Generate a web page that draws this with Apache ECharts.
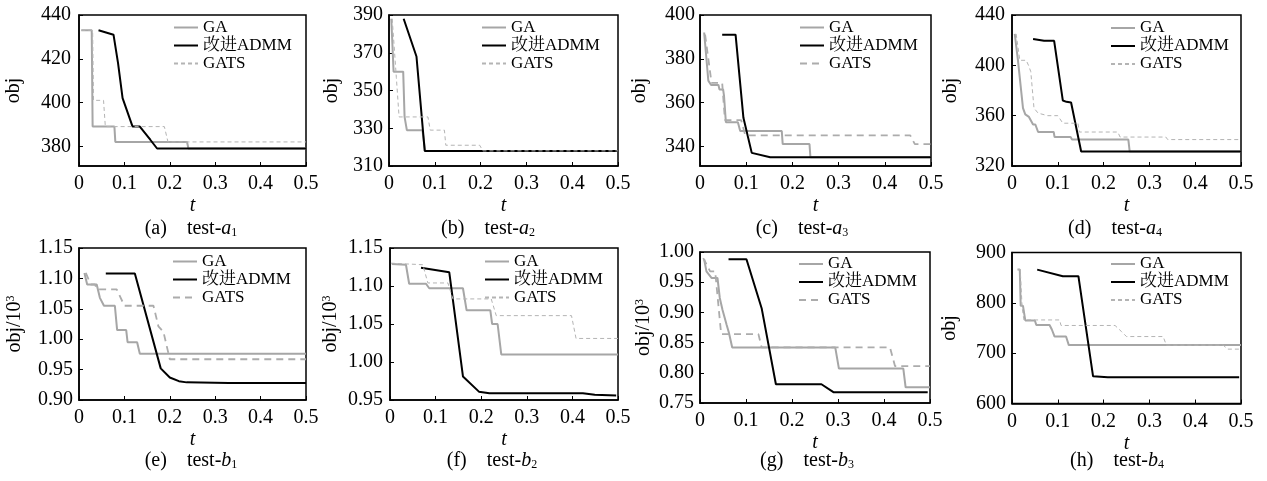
<!DOCTYPE html>
<html><head><meta charset="utf-8">
<script src="https://cdn.jsdelivr.net/npm/echarts@6/dist/echarts.min.js"></script>
<style>html,body{margin:0;padding:0;background:#fff}#c{width:1267px;height:481px}</style>
</head><body><div id="c"></div>
<script>
// ---------- data ----------
const xTicks = [0, 0.1, 0.2, 0.3, 0.4, 0.5];
const seriesNames = ['GA', '改进ADMM', 'GATS'];
const panelLetters = ['a', 'b', 'c', 'd', 'e', 'f', 'g', 'h'];
const caseLetters = ['a', 'a', 'a', 'a', 'b', 'b', 'b', 'b'];
const caseIndex = ['1', '2', '3', '4', '1', '2', '3', '4'];
const yNames = ['obj', 'obj', 'obj', 'obj', 'obj/10{sup|3}', 'obj/10{sup|3}', 'obj/10{sup|3}', 'obj'];
const yMin = [371, 310, 331, 320, 0.90, 0.95, 0.75, 600];
const yMax = [440, 390, 400, 440, 1.15, 1.15, 1.00, 900];
const yTicks_a = [380, 400, 420, 440];
const yTicks_b = [310, 330, 350, 370, 390];
const yTicks_c = [340, 360, 380, 400];
const yTicks_d = [320, 360, 400, 440];
const yTicks_e = [0.90, 0.95, 1.00, 1.05, 1.10, 1.15];
const yTicks_f = [0.95, 1.00, 1.05, 1.10, 1.15];
const yTicks_g = [0.75, 0.80, 0.85, 0.90, 0.95, 1.00];
const yTicks_h = [600, 700, 800, 900];

const GA_a = [[0.005,433],[0.028,433],[0.03,389],[0.078,389],[0.08,382],[0.238,382],[0.241,379],[0.5,379]];
const ADMM_a = [[0.043,433],[0.076,431],[0.086,418],[0.096,402],[0.118,389],[0.134,389],[0.157,383],[0.172,379],[0.5,379]];
const GATS_a = [[0.005,433],[0.03,433],[0.032,401],[0.054,401],[0.058,389],[0.188,389],[0.196,382],[0.5,382]];

const GA_b = [[0.005,388],[0.01,360],[0.031,360],[0.034,336],[0.037,336],[0.039,329],[0.073,329],[0.079,318],[0.5,318]];
const ADMM_b = [[0.032,388],[0.06,368],[0.078,318],[0.5,318]];
const GATS_b = [[0.007,388],[0.016,357],[0.022,336],[0.085,336],[0.09,329],[0.121,329],[0.124,321],[0.198,321],[0.205,318],[0.5,318]];

const GA_c = [[0.009,392],[0.018,370],[0.024,368],[0.04,368],[0.042,366],[0.05,366],[0.052,363],[0.056,351],[0.082,351],[0.087,347],[0.177,347],[0.179,341],[0.237,341],[0.239,335],[0.5,335]];
const ADMM_c = [[0.048,391],[0.077,391],[0.094,353],[0.112,337],[0.152,335],[0.5,335]];
const GATS_c = [[0.011,391],[0.025,369],[0.048,369],[0.054,352],[0.089,352],[0.098,345],[0.455,345],[0.465,341],[0.5,341]];

const GA_d = [[0.006,425],[0.013,404],[0.017,404],[0.024,366],[0.029,361],[0.037,359],[0.046,353],[0.051,353],[0.057,347],[0.091,347],[0.093,343],[0.128,343],[0.131,341],[0.254,341],[0.257,331.5],[0.5,331.5]];
const ADMM_d = [[0.046,421],[0.07,419.5],[0.092,419.5],[0.111,372],[0.119,371],[0.129,370.5],[0.151,331.5],[0.5,331.5]];
const GATS_d = [[0.009,425],[0.017,404],[0.031,404],[0.036,400],[0.041,395],[0.048,366],[0.057,362],[0.078,360],[0.1,360],[0.111,354],[0.144,354],[0.147,347],[0.231,347],[0.236,343],[0.336,343],[0.34,341],[0.5,341]];

const GA_e = [[0.012,1.109],[0.018,1.09],[0.039,1.09],[0.046,1.068],[0.055,1.055],[0.079,1.055],[0.084,1.015],[0.104,1.015],[0.107,0.995],[0.128,0.995],[0.134,0.976],[0.5,0.976]];
const ADMM_e = [[0.059,1.108],[0.123,1.108],[0.18,0.952],[0.2,0.937],[0.22,0.931],[0.237,0.929],[0.33,0.928],[0.5,0.928]];
const GATS_e = [[0.015,1.109],[0.026,1.09],[0.035,1.09],[0.04,1.082],[0.083,1.082],[0.1,1.055],[0.164,1.055],[0.175,1.021],[0.186,1.012],[0.2,0.967],[0.5,0.967]];

const GA_f = [[0.004,1.129],[0.035,1.128],[0.042,1.103],[0.079,1.103],[0.086,1.097],[0.16,1.097],[0.168,1.068],[0.22,1.068],[0.224,1.05],[0.236,1.05],[0.244,1.01],[0.5,1.01]];
const ADMM_f = [[0.068,1.124],[0.13,1.118],[0.16,0.981],[0.195,0.961],[0.218,0.959],[0.423,0.959],[0.449,0.957],[0.496,0.956]];
const GATS_f = [[0.002,1.13],[0.072,1.128],[0.083,1.104],[0.127,1.104],[0.138,1.083],[0.222,1.083],[0.233,1.061],[0.398,1.061],[0.408,1.031],[0.5,1.031]];

const GA_g = [[0.009,0.988],[0.014,0.968],[0.025,0.957],[0.038,0.957],[0.043,0.924],[0.049,0.904],[0.058,0.879],[0.063,0.866],[0.07,0.842],[0.294,0.842],[0.302,0.807],[0.442,0.807],[0.447,0.776],[0.5,0.776]];
const ADMM_g = [[0.062,0.988],[0.101,0.988],[0.134,0.907],[0.165,0.781],[0.264,0.781],[0.29,0.768],[0.495,0.768]];
const GATS_g = [[0.007,0.99],[0.022,0.968],[0.033,0.968],[0.046,0.864],[0.127,0.864],[0.134,0.842],[0.413,0.842],[0.424,0.811],[0.5,0.811]];

const GA_h = [[0.012,866],[0.017,866],[0.019,794],[0.024,794],[0.029,765],[0.05,765],[0.053,756],[0.082,756],[0.087,747],[0.093,733],[0.118,733],[0.124,716],[0.5,716]];
const ADMM_h = [[0.055,866],[0.111,853],[0.145,853],[0.177,654],[0.209,652],[0.496,652]];
const GATS_h = [[0.013,866],[0.018,866],[0.022,792],[0.026,766],[0.104,766],[0.107,755],[0.225,755],[0.239,743],[0.25,733],[0.33,733],[0.337,716],[0.461,716],[0.471,708],[0.5,708]];

// ---------- layout / style ----------
const yTicksAll = [yTicks_a, yTicks_b, yTicks_c, yTicks_d, yTicks_e, yTicks_f, yTicks_g, yTicks_h];
const seriesData = [
  [GA_a, ADMM_a, GATS_a], [GA_b, ADMM_b, GATS_b], [GA_c, ADMM_c, GATS_c], [GA_d, ADMM_d, GATS_d],
  [GA_e, ADMM_e, GATS_e], [GA_f, ADMM_f, GATS_f], [GA_g, ADMM_g, GATS_g], [GA_h, ADMM_h, GATS_h]
];
const FONT = "'Liberation Serif','Times New Roman','Noto Serif CJK SC','Noto Sans CJK SC',serif";
const gridRects = [
  {left: 79, top: 15, width: 227, height: 151},
  {left: 389, top: 15, width: 229, height: 151},
  {left: 700, top: 15, width: 231, height: 151},
  {left: 1012, top: 15, width: 229, height: 151},
  {left: 79, top: 248, width: 227, height: 152},
  {left: 390, top: 248, width: 228, height: 152},
  {left: 700, top: 252, width: 230, height: 151},
  {left: 1012, top: 252.5, width: 229, height: 151}
];
const yLabelMargin = [8, 6, 5, 7, 6, 7, 6, 6];
const yNameGap = [55, 47, 50, 51, 54, 49, 46, 52];
const legendPos = [
  {left: 173, top: 19}, {left: 481, top: 19}, {left: 799, top: 19}, {left: 1110, top: 19.5},
  {left: 172, top: 253}, {left: 484, top: 253}, {left: 798, top: 255.5}, {left: 1110, top: 255.5}
];
const captionPos = [
  {x: 191, y: 219}, {x: 488, y: 219}, {x: 802, y: 219}, {x: 1115, y: 219},
  {x: 191, y: 451}, {x: 492, y: 451}, {x: 807, y: 451}, {x: 1117, y: 451}
];
const thickDash = [false, false, true, false, true, false, true, false];

const grid = [], xAxis = [], yAxis = [], series = [], legend = [], title = [];
for (let i = 0; i < 8; i++) {
  const p = panelLetters[i];
  grid.push(Object.assign({show: true, borderColor: '#000', borderWidth: 1.5, backgroundColor: 'transparent'}, gridRects[i]));
  xAxis.push({
    type: 'value', gridIndex: i, min: 0, max: 0.5,
    name: 't', nameLocation: 'middle', nameGap: 30,
    nameTextStyle: {fontFamily: FONT, fontStyle: 'italic', fontSize: 20, color: '#000'},
    axisLine: {show: true, onZero: false, lineStyle: {color: '#000', width: 1.5}},
    axisTick: {show: true, inside: true, length: 4, customValues: xTicks, lineStyle: {color: '#000', width: 1}},
    axisLabel: {show: true, margin: 8, customValues: xTicks, fontFamily: FONT, fontSize: 20, color: '#000',
      formatter: v => String(Math.round(v * 10) / 10)},
    splitLine: {show: false}
  });
  const twoDec = (i >= 4 && i <= 6);
  yAxis.push({
    type: 'value', gridIndex: i, min: yMin[i], max: yMax[i],
    name: yNames[i], nameLocation: 'middle', nameGap: yNameGap[i],
    nameTextStyle: {fontFamily: FONT, fontSize: 20, color: '#000',
      rich: {sup: {fontFamily: FONT, fontSize: 12, color: '#000', verticalAlign: 'top', padding: [0, 0, 8, 0]}}},
    axisLine: {show: true, onZero: false, lineStyle: {color: '#000', width: 1.5}},
    axisTick: {show: true, inside: true, length: 4, customValues: yTicksAll[i], lineStyle: {color: '#000', width: 1}},
    axisLabel: {show: true, margin: yLabelMargin[i], customValues: yTicksAll[i], fontFamily: FONT, fontSize: 20, color: '#000',
      formatter: v => twoDec ? v.toFixed(2) : String(Math.round(v))},
    splitLine: {show: false}
  });
  const styles = [
    {color: '#a6a6a6', width: 2, type: 'solid'},
    {color: '#000000', width: 2, type: 'solid'},
    thickDash[i] ? {color: '#acacac', width: 1.8, type: [7, 5]} : {color: '#b4b4b4', width: 1, type: [4, 3]}
  ];
  for (let s = 0; s < 3; s++) {
    series.push({
      type: 'line', name: seriesNames[s] + '#' + p, xAxisIndex: i, yAxisIndex: i,
      data: seriesData[i][s], symbol: 'none', showSymbol: false, silent: true, animation: false,
      lineStyle: styles[s], itemStyle: {color: styles[s].color}, z: 2 + s
    });
  }
  legend.push({
    orient: 'vertical', left: legendPos[i].left, top: legendPos[i].top, padding: 0, itemGap: 1,
    itemWidth: 24, itemHeight: 12, selectedMode: false,
    itemStyle: {opacity: 0},
    data: seriesNames.map(n => n + '#' + p),
    formatter: name => name.split('#')[0],
    textStyle: {fontFamily: FONT, fontSize: 17, color: '#000', lineHeight: 17}
  });
  title.push({
    text: '(' + p + ')    test-{i|' + caseLetters[i] + '}{s|' + caseIndex[i] + '}',
    left: captionPos[i].x, top: captionPos[i].y, textAlign: 'center', padding: 0,
    textStyle: {fontFamily: FONT, fontSize: 20, fontWeight: 'normal', color: '#000',
      rich: {
        i: {fontFamily: FONT, fontSize: 20, fontStyle: 'italic', color: '#000'},
        s: {fontFamily: FONT, fontSize: 12, color: '#000', verticalAlign: 'bottom'}
      }}
  });
}

const chart = echarts.init(document.getElementById('c'), null, {renderer: 'canvas'});
chart.setOption({animation: false, backgroundColor: '#fff', grid, xAxis, yAxis, series, legend, title});
</script></body></html>
